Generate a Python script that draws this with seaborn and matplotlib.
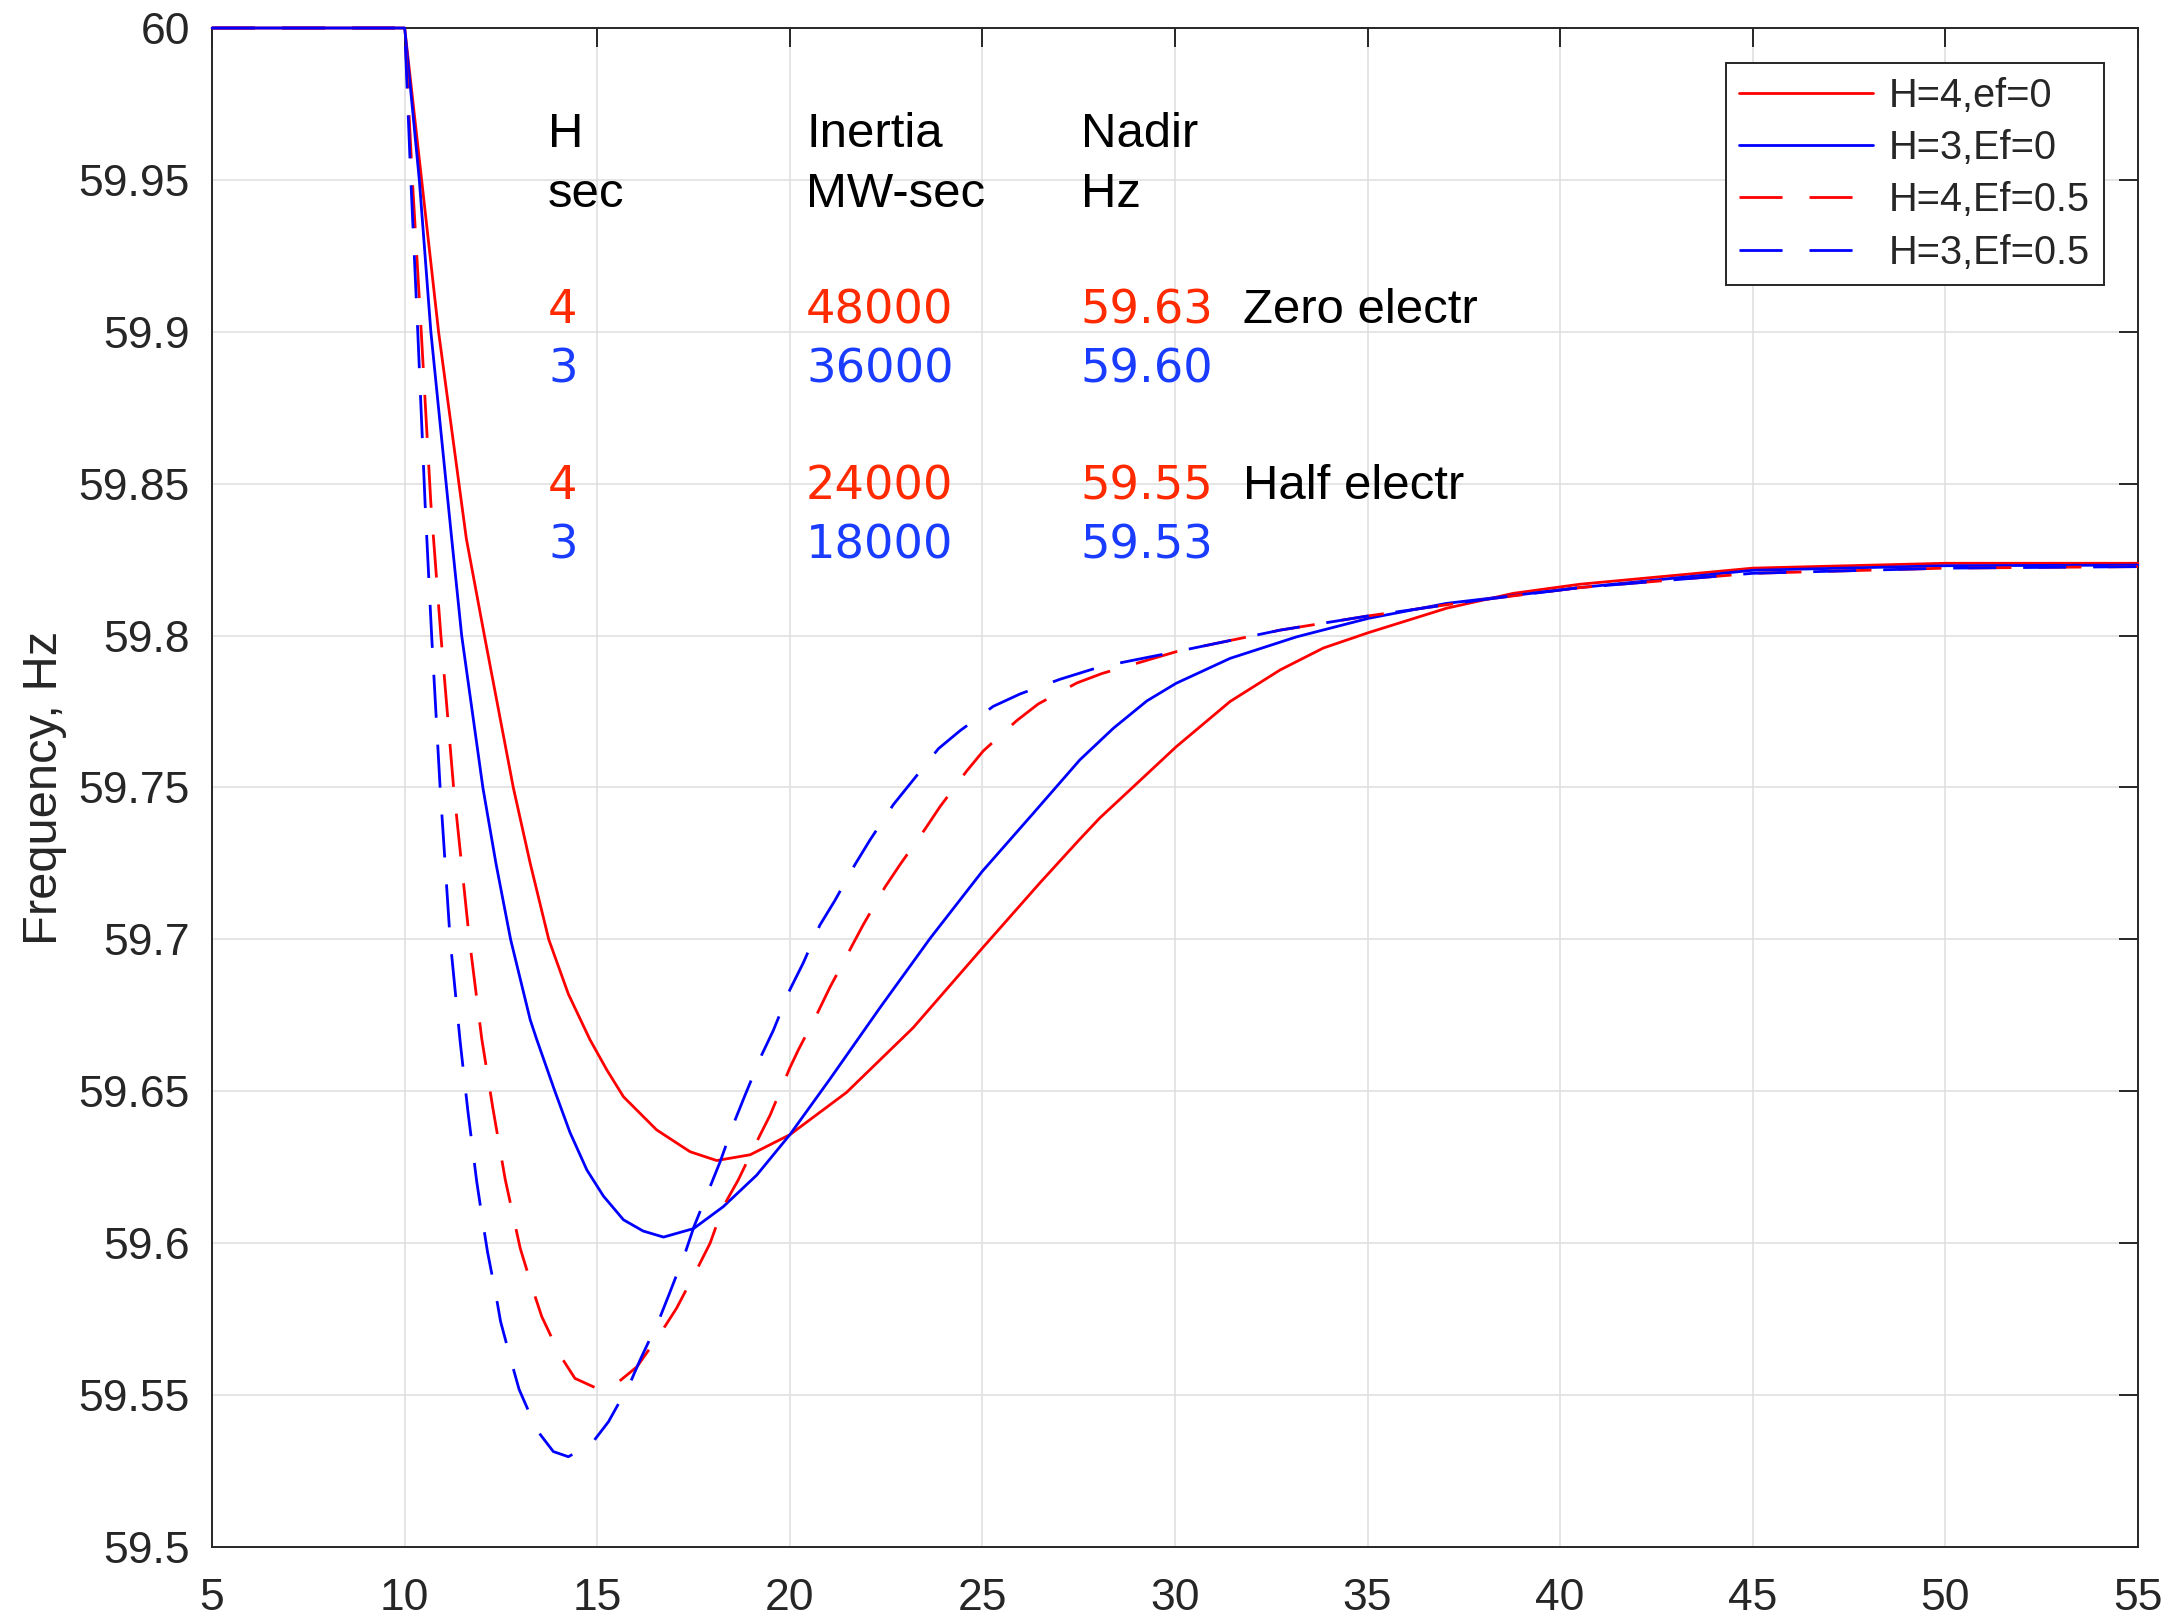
import numpy as np
import pandas as pd
import matplotlib
matplotlib.use("Agg")
from matplotlib import pyplot as plt
from matplotlib.ticker import MultipleLocator, FuncFormatter
import seaborn as sns

# series names (legend order)
labels = ["H=4,ef=0", "H=3,Ef=0", "H=4,Ef=0.5", "H=3,Ef=0.5"]

# H=4, no electronic inertia
t_h4_e0 = [5, 10, 10.44, 10.88, 11.6, 12.07, 12.43, 12.82, 13.26, 13.74,
           14.25, 14.81, 15.25, 15.68, 16.54, 17.41, 18.1, 18.97, 20.0, 21.47,
           23.2, 24.99, 26.5, 27.53, 28.05, 28.83, 30.03, 31.43, 32.73, 33.85,
           35.03, 37.05, 38.78, 40.51, 45, 50, 55]
f_h4_e0 = [60, 60, 59.95, 59.9, 59.832, 59.8, 59.776, 59.75, 59.725, 59.7,
           59.682, 59.667, 59.657, 59.6482, 59.6373, 59.6301, 59.6272, 59.6291, 59.6357, 59.6496,
           59.6709, 59.697, 59.7187, 59.733, 59.74, 59.7492, 59.7634, 59.7783, 59.7887, 59.7959,
           59.801, 59.809, 59.8139, 59.8169, 59.8222, 59.8238, 59.8238]

# H=3, no electronic inertia
t_h3_e0 = [5, 10, 10.38, 10.68, 11.22, 11.48, 12.03, 12.37, 12.75, 13.26,
           13.43, 13.9, 14.29, 14.73, 15.16, 15.68, 16.19, 16.72, 17.5, 18.27,
           19.14, 20.0, 21.04, 22.34, 23.64, 24.99, 26.32, 27.53, 28.4, 29.27,
           30.03, 31.43, 33.16, 35.03, 37.05, 40.51, 45, 50, 55]
f_h3_e0 = [60, 60, 59.95, 59.9, 59.832, 59.8, 59.75, 59.725, 59.7, 59.6735,
           59.667, 59.65, 59.6365, 59.6241, 59.6155, 59.6077, 59.604, 59.602, 59.6048, 59.612,
           59.6224, 59.6357, 59.654, 59.6775, 59.7003, 59.7223, 59.7415, 59.7591, 59.7695, 59.7785,
           59.7843, 59.7925, 59.7996, 59.8057, 59.8106, 59.8158, 59.8215, 59.823, 59.8232]

# H=4, half electronic
t_h4_e5 = [5, 10, 10.2, 10.43, 10.68, 10.94, 11.27, 11.68, 12.0, 12.29,
           12.61, 13.0, 13.33, 13.56, 14.03, 14.42, 14.99, 15.51, 16.03, 16.67,
           17.06, 17.58, 17.93, 18.27, 18.66, 19.14, 19.49, 20.0, 20.22, 20.7,
           21.04, 21.56, 21.9, 22.47, 22.86, 23.51, 23.9, 24.59, 25.02, 25.89,
           26.45, 27.45, 28.1, 30.03, 32.73, 35.03, 37.92, 40.51, 45, 50, 55]
f_h4_e5 = [60, 60, 59.95, 59.9, 59.8435, 59.8, 59.75, 59.7, 59.6674, 59.6444,
           59.621, 59.5983, 59.5846, 59.5758, 59.5632, 59.5555, 59.5522, 59.5539, 59.5593, 59.5709,
           59.5786, 59.5912, 59.6, 59.612, 59.6208, 59.6334, 59.6422, 59.6577, 59.6636, 59.6753,
           59.6842, 59.6966, 59.7047, 59.7172, 59.7246, 59.7363, 59.7437, 59.7554, 59.762, 59.772,
           59.7775, 59.7844, 59.7875, 59.7947, 59.8018, 59.8065, 59.8117, 59.8158, 59.8205, 59.8222,
           59.8227]

# H=3, half electronic
t_h3_e5 = [5, 10, 10.16, 10.34, 10.53, 10.7, 10.92, 11.18, 11.44, 11.64,
           11.87, 12.04, 12.15, 12.37, 12.49, 12.78, 12.97, 13.43, 13.86, 14.25,
           14.86, 15.29, 15.85, 16.11, 16.61, 16.87, 17.28, 17.51, 17.93, 18.19,
           18.58, 18.84, 19.27, 19.57, 20.0, 20.35, 20.78, 21.17, 21.69, 22.08,
           22.69, 23.16, 23.86, 24.42, 25.28, 25.98, 27.01, 28.05, 30.03, 32.73,
           35.03, 37.92, 40.51, 45, 50, 55]
f_h3_e5 = [60, 60, 59.95, 59.9, 59.8435, 59.8, 59.75, 59.7, 59.6664, 59.6436,
           59.6203, 59.606, 59.5972, 59.5829, 59.5742, 59.5605, 59.5519, 59.5385, 59.5314, 59.5297,
           59.5341, 59.5412, 59.5539, 59.5615, 59.575, 59.5833, 59.5967, 59.6054, 59.6186, 59.6268,
           59.6406, 59.6488, 59.662, 59.670, 59.6834, 59.6923, 59.7047, 59.7128, 59.7246, 59.7327,
           59.7444, 59.7518, 59.7628, 59.7687, 59.7767, 59.7808, 59.7856, 59.7897, 59.7947, 59.8018,
           59.8065, 59.8117, 59.8158, 59.8205, 59.8222, 59.8227]

# annotation table
h_col = ["4", "3", "4", "3"]
inertia_col = ["48000", "36000", "24000", "18000"]
nadir_col = ["59.63", "59.60", "59.55", "59.53"]
case_col = ["Zero electr", "", "Half electr", ""]

red_txt = "#ff2a00"
blue_txt = "#1a3cff"
row_colors = [red_txt, blue_txt, red_txt, blue_txt]

frames = []
for lab, t, f in zip(labels, [t_h4_e0, t_h3_e0, t_h4_e5, t_h3_e5],
                     [f_h4_e0, f_h3_e0, f_h4_e5, f_h3_e5]):
    frames.append(pd.DataFrame({"t": t, "f": f, "case": lab}))
df = pd.concat(frames, ignore_index=True)

sns.set_style("white")
plt.rcParams['font.family'] = ['Liberation Sans', 'DejaVu Sans']

fig = plt.figure(figsize=(10.91, 8.095), dpi=200)
ax = fig.add_axes([0.0972, 0.0445, 0.8826, 0.9382])

lw = 1.0
palette = {labels[0]: "#ff0000", labels[1]: "#0000ff", labels[2]: "#ff0000", labels[3]: "#0000ff"}
dashes = {labels[0]: "", labels[1]: "", labels[2]: (15.5, 9.7), labels[3]: (15.5, 9.7)}

sns.lineplot(data=df, x="t", y="f", hue="case", style="case", hue_order=labels,
             style_order=labels, palette=palette, dashes=dashes, estimator=None,
             sort=False, linewidth=lw, ax=ax, clip_on=False, zorder=5)

ax.set_xlim(5, 55)
ax.set_ylim(59.5, 60)
ax.xaxis.set_major_locator(MultipleLocator(5))
ax.yaxis.set_major_locator(MultipleLocator(0.05))
ax.yaxis.set_major_formatter(FuncFormatter(lambda v, p: "%g" % round(v, 2)))
ax.grid(True, color="#dedede", linewidth=0.55)
ax.set_axisbelow(True)

for s in ax.spines.values():
    s.set_color("#262626")
    s.set_linewidth(0.7)
ax.tick_params(direction="in", length=7, width=0.7, color="#262626", labelsize=16,
               labelcolor="#262626", top=True, right=True)
ax.tick_params(axis="y", pad=8)
ax.tick_params(axis="x", pad=11)

ax.set_xlabel("")
ax.set_ylabel("Frequency, Hz", fontsize=17.6, color="#262626")
ax.yaxis.set_label_coords(-0.0753, 0.5)

# annotation table
fs_word = 17.7
fs_num = 16.7
num_font = ["DejaVu Sans"]
x_h, x_in, x_na, x_case = 13.72, 20.42, 27.55, 31.76
ax.text(x_h, 59.9607, "H", fontsize=fs_word, color="k")
ax.text(x_h, 59.9412, "sec", fontsize=fs_word, color="k")
ax.text(x_in, 59.9607, "Inertia", fontsize=fs_word, color="k")
ax.text(x_in, 59.9412, "MW-sec", fontsize=fs_word, color="k")
ax.text(x_na, 59.9607, "Nadir", fontsize=fs_word, color="k")
ax.text(x_na, 59.9412, "Hz", fontsize=fs_word, color="k")
row_y = [59.9028, 59.8832, 59.8449, 59.8254]
for yv, h, i, n, c, col in zip(row_y, h_col, inertia_col, nadir_col, case_col, row_colors):
    ax.text(x_h, yv, h, fontsize=fs_num, color=col, family=num_font)
    ax.text(x_in, yv, i, fontsize=fs_num, color=col, family=num_font)
    ax.text(x_na, yv, n, fontsize=fs_num, color=col, family=num_font)
    if c:
        ax.text(x_case, yv, c, fontsize=fs_word, color="k")

handles, labs = ax.get_legend_handles_labels()
leg = ax.legend(handles, labs, loc="upper right", bbox_to_anchor=(0.9823, 0.9768),
                borderaxespad=0, fontsize=14.3, frameon=True, fancybox=False,
                edgecolor="#262626", framealpha=1, handlelength=3.35, handletextpad=0.42,
                labelspacing=0.36, borderpad=0.34)
leg.get_frame().set_linewidth(0.7)
for line in leg.get_lines():
    line.set_linewidth(lw)

fig.savefig("out.png", dpi=200)
